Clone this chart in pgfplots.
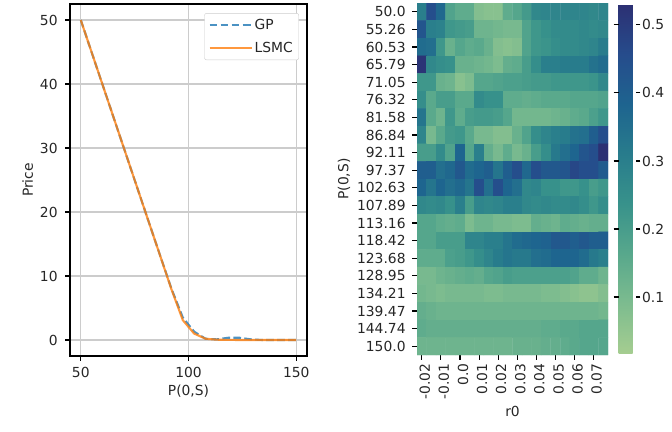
\documentclass[border=0pt]{standalone}
\usepackage{fontspec}
\setmainfont{DejaVu Sans}
\usepackage{pgfplots}
\pgfplotsset{compat=1.18}
\definecolor{mplblue}{HTML}{1F77B4}
\definecolor{mplorange}{HTML}{FF7F0E}
\definecolor{txt}{HTML}{262626}
\pgfkeys{/pgf/number format/assume math mode=true}
\pgfplotsset{
  colormap={crest}{rgb255=(165,205,144) rgb255=(125,188,143) rgb255=(88,168,140) rgb255=(56,146,139) rgb255=(40,124,140) rgb255=(30,100,143) rgb255=(38,76,140) rgb255=(44,48,115)},
  every tick label/.append style={font=\fontsize{13.9}{16}\selectfont, text=txt},
  every axis label/.append style={font=\fontsize{13.9}{16}\selectfont, text=txt},
}
\begin{document}
\begin{tikzpicture}
\useasboundingbox (0,0) rectangle (672bp,432bp);
\begin{axis}[
  at={(70bp,76bp)}, anchor=south west, scale only axis,
  width=237bp, height=352bp,
  xmin=45, xmax=155, ymin=-2.5, ymax=52.5,
  xtick={50,100,150}, ytick={0,10,20,30,40,50},
  grid=major, grid style={color=black!20, line width=1.1bp},
  axis line style={line width=1.1bp, black},
  tick align=outside, tick pos=left, major tick length=4.9bp,
  tick style={line width=1.1bp, black},
  yticklabel style={xshift=-4bp}, xticklabel style={yshift=-3bp},
  xlabel={P(0,S)}, ylabel={Price},
  legend style={at={(0.966,0.974)}, anchor=north east, draw=black!20, rounded corners=2bp,
    font=\fontsize{13.9}{16}\selectfont, text=txt, row sep=7bp, inner xsep=4bp, inner ysep=4bp},
  legend cell align=left,
  legend image code/.code={\draw[#1] (0bp,0bp) -- (34bp,0bp); \path (34bp,0bp) -- (42bp,0bp);},
]
\addplot[mplblue, opacity=0.8, line width=2.1bp, dash pattern=on 7.7bp off 3.3bp] coordinates {
(50.0,50.0) (55.26,44.74) (60.53,39.47) (65.79,34.21) (71.05,28.95) (76.32,23.68)
(81.58,18.42) (86.84,13.2) (92.11,8.0) (97.37,3.5) (102.63,1.3) (107.89,0.2)
(113.16,0.1) (118.42,0.35) (123.68,0.35) (128.95,0.1) (134.21,0.0) (139.47,0.0)
(144.74,0.0) (150.0,0.0)};
\addlegendentry{GP}
\addplot[mplorange, opacity=0.8, line width=2.1bp] coordinates {
(50.0,50.0) (55.26,44.74) (60.53,39.47) (65.79,34.21) (71.05,28.95) (76.32,23.68)
(81.58,18.42) (86.84,13.16) (92.11,7.9) (97.37,3.1) (102.63,1.0) (107.89,0.2)
(113.16,0.05) (118.42,0.02) (123.68,0.0) (128.95,0.0) (134.21,0.0) (139.47,0.0)
(144.74,0.0) (150.0,0.0)};
\addlegendentry{LSMC}
\end{axis}
\begin{axis}[
  at={(417bp,77bp)}, anchor=south west, scale only axis,
  width=191bp, height=352bp,
  xmin=-0.5, xmax=19.5, ymin=-0.5, ymax=19.5, y dir=reverse,
  axis line style={draw=none},
  tick align=outside, tick pos=left, major tick length=4.9bp,
  tick style={line width=1.1bp, black},
  xtick={0,2,...,18},
  xticklabels={-0.02,-0.01,0.0,0.01,0.02,0.03,0.04,0.05,0.06,0.07},
  xticklabel style={rotate=90, anchor=east, yshift=-3bp},
  ytick={0,1,...,19},
  yticklabels={50.0,55.26,60.53,65.79,71.05,76.32,81.58,86.84,92.11,97.37,102.63,107.89,113.16,118.42,123.68,128.95,134.21,139.47,144.74,150.0},
  yticklabel style={xshift=-3bp},
  xlabel={r0}, ylabel={P(0,S)},
  colormap name=crest,
  point meta min=0.017, point meta max=0.53,
  colorbar,
  colorbar style={
    at={(parent axis.north east)}, anchor=north west, xshift=2bp, yshift=-1.5bp,
    scale only axis, width=17bp, height=349bp,
    axis line style={draw=none},
    ytick={0.1,0.2,0.3,0.4,0.5},
    tick align=outside, major tick length=4.9bp,
    tick style={line width=1.1bp, black},
    yticklabel pos=right,
    yticklabel style={/pgf/number format/fixed, /pgf/number format/precision=1, inner sep=1.5bp, xshift=0bp},
  },
]
\addplot[matrix plot*, mesh/cols=20, point meta=explicit]
  table[y expr={floor((\coordindex+0.5)/20)}, x expr={\coordindex-20*floor((\coordindex+0.5)/20)}, meta=c, row sep=\\] {
c\\
0.30\\0.45\\0.37\\0.18\\0.15\\0.15\\0.08\\0.07\\0.07\\0.15\\0.17\\0.21\\0.27\\0.28\\0.28\\0.28\\0.28\\0.28\\0.27\\0.28\\
0.43\\0.30\\0.29\\0.22\\0.21\\0.20\\0.12\\0.12\\0.11\\0.10\\0.10\\0.18\\0.22\\0.24\\0.26\\0.26\\0.26\\0.27\\0.26\\0.27\\
0.36\\0.35\\0.22\\0.13\\0.17\\0.15\\0.16\\0.13\\0.08\\0.07\\0.08\\0.18\\0.22\\0.23\\0.25\\0.26\\0.26\\0.27\\0.28\\0.31\\
0.52\\0.27\\0.25\\0.24\\0.13\\0.13\\0.12\\0.11\\0.09\\0.14\\0.15\\0.20\\0.25\\0.30\\0.30\\0.31\\0.31\\0.31\\0.34\\0.36\\
0.22\\0.22\\0.13\\0.12\\0.07\\0.09\\0.17\\0.17\\0.18\\0.19\\0.19\\0.20\\0.21\\0.21\\0.22\\0.22\\0.22\\0.22\\0.23\\0.27\\
0.25\\0.16\\0.20\\0.20\\0.16\\0.16\\0.26\\0.24\\0.24\\0.15\\0.15\\0.14\\0.15\\0.16\\0.16\\0.16\\0.17\\0.17\\0.17\\0.18\\
0.33\\0.16\\0.12\\0.22\\0.15\\0.20\\0.21\\0.21\\0.20\\0.17\\0.11\\0.11\\0.11\\0.11\\0.12\\0.13\\0.15\\0.16\\0.19\\0.22\\
0.28\\0.10\\0.16\\0.21\\0.22\\0.16\\0.10\\0.10\\0.08\\0.08\\0.13\\0.18\\0.25\\0.28\\0.30\\0.31\\0.34\\0.35\\0.40\\0.45\\
0.20\\0.20\\0.26\\0.18\\0.38\\0.17\\0.30\\0.14\\0.10\\0.15\\0.10\\0.13\\0.20\\0.25\\0.32\\0.35\\0.38\\0.43\\0.45\\0.53\\
0.40\\0.40\\0.35\\0.37\\0.42\\0.36\\0.38\\0.40\\0.33\\0.40\\0.45\\0.37\\0.45\\0.42\\0.42\\0.43\\0.47\\0.45\\0.45\\0.41\\
0.38\\0.33\\0.38\\0.35\\0.37\\0.33\\0.45\\0.35\\0.45\\0.38\\0.35\\0.27\\0.28\\0.24\\0.24\\0.22\\0.22\\0.24\\0.20\\0.22\\
0.27\\0.26\\0.27\\0.24\\0.30\\0.20\\0.28\\0.27\\0.28\\0.30\\0.30\\0.27\\0.26\\0.27\\0.26\\0.26\\0.27\\0.25\\0.22\\0.25\\
0.17\\0.17\\0.15\\0.14\\0.15\\0.09\\0.12\\0.12\\0.10\\0.10\\0.09\\0.09\\0.14\\0.13\\0.12\\0.15\\0.14\\0.13\\0.14\\0.14\\
0.17\\0.17\\0.20\\0.20\\0.20\\0.28\\0.28\\0.30\\0.30\\0.33\\0.36\\0.37\\0.38\\0.39\\0.42\\0.42\\0.40\\0.42\\0.40\\0.40\\
0.15\\0.15\\0.15\\0.19\\0.20\\0.22\\0.25\\0.28\\0.31\\0.33\\0.32\\0.32\\0.35\\0.36\\0.38\\0.38\\0.38\\0.36\\0.32\\0.30\\
0.10\\0.10\\0.12\\0.13\\0.14\\0.15\\0.14\\0.17\\0.18\\0.20\\0.19\\0.19\\0.19\\0.19\\0.19\\0.19\\0.18\\0.15\\0.15\\0.12\\
0.11\\0.10\\0.09\\0.10\\0.10\\0.10\\0.10\\0.09\\0.09\\0.10\\0.10\\0.10\\0.10\\0.09\\0.09\\0.08\\0.07\\0.06\\0.06\\0.08\\
0.14\\0.13\\0.12\\0.12\\0.12\\0.12\\0.12\\0.12\\0.12\\0.12\\0.12\\0.12\\0.12\\0.12\\0.12\\0.12\\0.12\\0.12\\0.12\\0.11\\
0.15\\0.14\\0.14\\0.14\\0.14\\0.14\\0.14\\0.14\\0.14\\0.14\\0.14\\0.14\\0.14\\0.15\\0.15\\0.16\\0.16\\0.17\\0.17\\0.17\\
0.12\\0.12\\0.12\\0.12\\0.12\\0.12\\0.12\\0.12\\0.12\\0.12\\0.13\\0.13\\0.13\\0.14\\0.14\\0.15\\0.16\\0.17\\0.17\\0.17\\
};
\end{axis}
\end{tikzpicture}
\end{document}
